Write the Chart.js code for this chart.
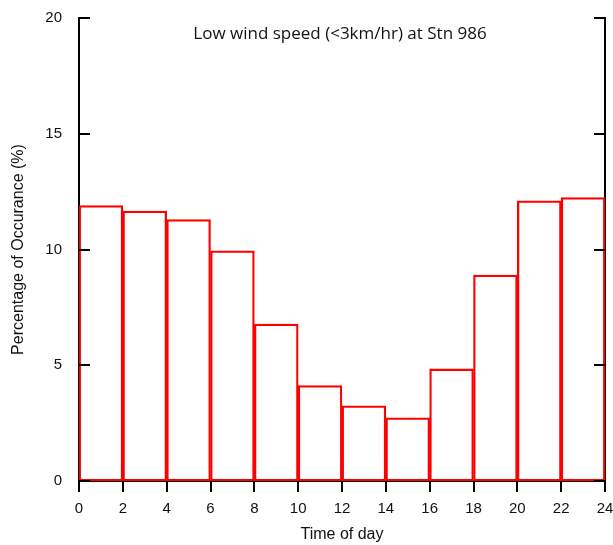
<!DOCTYPE html>
<html>
<head>
<meta charset="utf-8">
<script src="https://cdn.jsdelivr.net/npm/chart.js@4"></script>
<style>
  html, body { margin: 0; padding: 0; background: #fff; }
  #wrap { width: 613px; height: 545px; }
</style>
</head>
<body>
<div id="wrap"><canvas id="lowWind"></canvas></div>
<script>
// centre of each 2-hour bin
const binCentres = [1, 3, 5, 7, 9, 11, 13, 15, 17, 19, 21, 23];
const occurrence = [11.9, 11.66, 11.29, 9.94, 6.78, 4.12, 3.25, 2.73, 4.84, 8.9, 12.1, 12.24];
const xTicks = [0, 2, 4, 6, 8, 10, 12, 14, 16, 18, 20, 22, 24];
const yTicks = [0, 5, 10, 15, 20];
const chartTitle = 'Low wind speed (<3km/hr) at Stn 986';

document.addEventListener('DOMContentLoaded', function () {
    const ctx = document.getElementById('lowWind').getContext('2d');

    // title inside the plot + inward tick marks on left and right y axes
    const extras = {
        id: 'extras',
        afterDraw(chart) {
            const c = chart.ctx;
            const area = chart.chartArea;
            const y = chart.scales.y;
            c.save();
            c.strokeStyle = '#000';
            c.lineWidth = 2;
            yTicks.forEach(v => {
                const py = Math.round(y.getPixelForValue(v));
                c.beginPath();
                c.moveTo(area.left, py);
                c.lineTo(area.left + 11, py);
                c.moveTo(area.right, py);
                c.lineTo(area.right - 11, py);
                c.stroke();
            });
            c.fillStyle = '#111';
            c.font = '17px "Open Sans"';
            c.textAlign = 'center';
            c.textBaseline = 'middle';
            c.fillText(chartTitle, (area.left + area.right) / 2 - 2, area.top + 16);
            c.restore();
        }
    };

    new Chart(ctx, {
        type: 'bar',
        data: {
            datasets: [{
                data: binCentres.map((x, i) => ({ x: x, y: occurrence[i] })),
                backgroundColor: 'rgba(255,255,255,0)',
                borderColor: 'rgb(255, 0, 0)',
                borderWidth: 1.6,
                borderSkipped: false,
                barPercentage: 1,
                categoryPercentage: 1
            }]
        },
        options: {
            responsive: true,
            maintainAspectRatio: false,
            animation: false,
            layout: { padding: { left: 0, right: 0, top: 15, bottom: 0 } },
            scales: {
                x: {
                    type: 'linear',
                    offset: false,
                    min: 0,
                    max: 24,
                    afterBuildTicks: s => { s.ticks = xTicks.map(v => ({ value: v })); },
                    afterFit: s => { s.height = 64; s.paddingLeft = 0; s.paddingRight = 8; },
                    grid: { offset: false, drawOnChartArea: false, drawTicks: true, tickLength: 11, color: '#000', lineWidth: 2 },
                    border: { display: true, color: '#000', width: 2 },
                    ticks: { color: '#111', padding: 8, maxRotation: 0, font: { family: '"Liberation Sans", Arial', size: 15 } },
                    title: { display: true, text: 'Time of day', color: '#111', padding: { top: 0, bottom: 1 }, font: { family: '"Liberation Sans", Arial', size: 16 } }
                },
                y: {
                    min: 0,
                    max: 20,
                    afterBuildTicks: s => { s.ticks = yTicks.map(v => ({ value: v })); },
                    afterFit: s => { s.width = 79; },
                    grid: { display: false },
                    border: { display: true, color: '#000', width: 2 },
                    ticks: { color: '#111', padding: 9, font: { family: '"Liberation Sans", Arial', size: 15 } },
                    title: { display: true, text: 'Percentage of Occurance (%)', color: '#111', padding: { top: 9, bottom: 0 }, font: { family: '"Liberation Sans", Arial', size: 16 } }
                },
                yRight: {
                    position: 'right',
                    min: 0,
                    max: 20,
                    afterFit: s => { s.width = 0; },
                    grid: { display: false },
                    ticks: { display: false },
                    border: { display: true, color: '#000', width: 2 }
                }
            },
            plugins: {
                legend: { display: false },
                tooltip: { enabled: false }
            }
        },
        plugins: [extras]
    });
});
</script>
</body>
</html>
